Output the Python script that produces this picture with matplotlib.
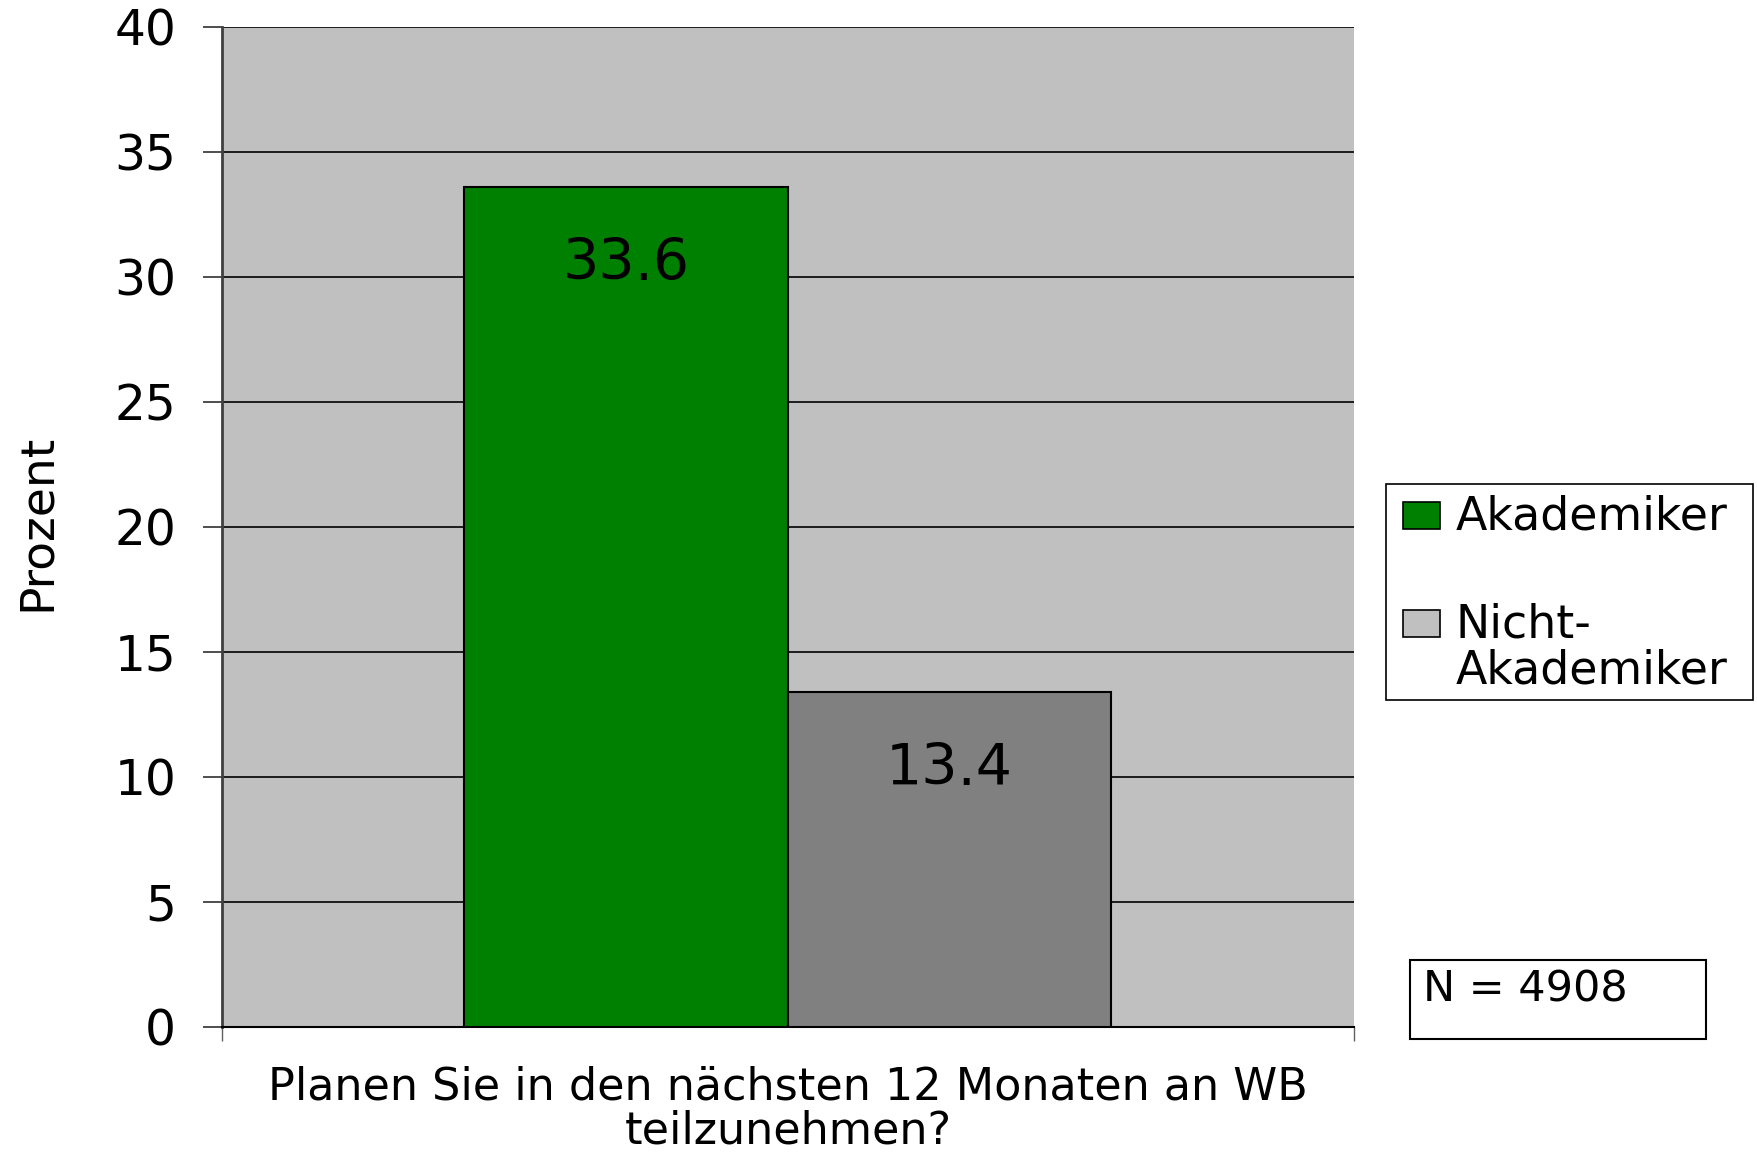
import matplotlib
matplotlib.use('Agg')
import matplotlib.pyplot as plt
from matplotlib.patches import Rectangle

# data
series = ['Akademiker', 'Nicht-\nAkademiker']
values = [33.6, 13.4]
bar_colors = ['#008000', '#808080']
legend_colors = ['#008000', '#C0C0C0']
xlabel = 'Planen Sie in den nächsten 12 Monaten an WB\nteilzunehmen?'
ylabel = 'Prozent'
n_text = 'N = 4908'

W, H = 1757, 1152
fig = plt.figure(figsize=(W / 100, H / 100), dpi=100)
plt.rcParams['font.family'] = ['DejaVu Sans']

def fx(x):
    return x / W

def fy(y):
    return 1 - y / H

ax = fig.add_axes([fx(222), fy(1026.5), fx(1353.5) - fx(222), fy(27) - fy(1026.5)])
ax.set_facecolor('#C0C0C0')

# bars, excel style gap width 150%
bw = 1 / 3.5
for i, (v, c) in enumerate(zip(values, bar_colors)):
    x = (i - 0.5) * bw
    ax.bar(x, v, width=bw, color=c, edgecolor='black', linewidth=1.5, zorder=3)
    ax.text(x, v - 3.1, '{:.1f}'.format(v), ha='center', va='center',
            fontsize=41, color='black', zorder=4)

ax.set_xlim(-0.5, 0.5)
ax.set_ylim(0, 40)
ax.set_yticks(range(0, 41, 5))
ax.yaxis.grid(True, color='black', linewidth=1.2, zorder=1)
ax.set_axisbelow(True)
ax.tick_params(axis='y', direction='out', length=14, width=1.2, pad=19,
               labelsize=35, color='#303030')
ax.set_xticks([-0.5, 0.5])
ax.set_xticklabels([])
ax.tick_params(axis='x', direction='out', length=10, width=1, color='#606060')

for s in ['top', 'right']:
    ax.spines[s].set_visible(False)
ax.spines['left'].set_color('#404040')
ax.spines['left'].set_linewidth(2)
ax.spines['bottom'].set_color('black')
ax.spines['bottom'].set_linewidth(1.5)

fig.text(fx(788), fy(1066), xlabel, ha='center', va='top', fontsize=32,
         linespacing=1.0)
fig.text(fx(37), fy(522), ylabel, ha='center', va='center', rotation=90,
         fontsize=34)

# legend
fig.add_artist(Rectangle((fx(1386), fy(700)), fx(1753) - fx(1386), fy(484) - fy(700),
                         transform=fig.transFigure, facecolor='white',
                         edgecolor='black', linewidth=1.2))
patch_tops = [502, 610]
text_tops = [495, 603]
for lab, c, pt, tt in zip(series, legend_colors, patch_tops, text_tops):
    fig.add_artist(Rectangle((fx(1403), fy(pt + 27)), fx(1440) - fx(1403), fy(pt) - fy(pt + 27),
                             transform=fig.transFigure, facecolor=c,
                             edgecolor='black', linewidth=1.2))
    fig.text(fx(1456), fy(tt), lab, ha='left', va='top', fontsize=33,
             linespacing=1.0)

# N box
fig.add_artist(Rectangle((fx(1410), fy(1039)), fx(1706) - fx(1410), fy(960) - fy(1039),
                         transform=fig.transFigure, facecolor='white',
                         edgecolor='black', linewidth=1.5))
fig.text(fx(1423), fy(1002), n_text, ha='left', va='baseline', fontsize=31)

fig.savefig('out.png', dpi=100)
